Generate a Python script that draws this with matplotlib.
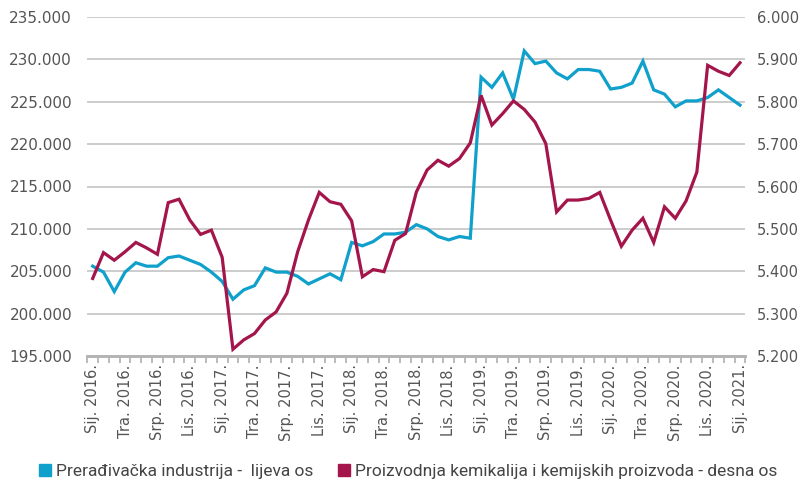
import matplotlib
matplotlib.use('Agg')
from matplotlib import pyplot as plt
from matplotlib.patches import Patch

# Months Sij. 2016. - Sij. 2021.
month_names = ['Sij.', 'Vel.', 'Ožu.', 'Tra.', 'Svi.', 'Lip.',
               'Srp.', 'Kol.', 'Ruj.', 'Lis.', 'Stu.', 'Pro.']
years = [2016, 2017, 2018, 2019, 2020, 2021]
labels = []
for y in years:
    for m in month_names:
        labels.append(m + ' ' + str(y) + '.')
labels = labels[:61]

# Prerađivačka industrija (lijeva os)
manufacturing = [205.6, 204.9, 202.6, 204.9, 206.0, 205.6, 205.6, 206.6, 206.8, 206.3,
                 205.8, 204.9, 203.8, 201.7, 202.8, 203.3, 205.4, 204.9, 204.9, 204.4,
                 203.5, 204.1, 204.7, 204.0, 208.4, 208.0, 208.5, 209.4, 209.4, 209.6,
                 210.5, 210.0, 209.1, 208.7, 209.1, 208.9, 227.9, 226.7, 228.4, 225.3,
                 231.0, 229.5, 229.8, 228.4, 227.7, 228.8, 228.8, 228.6, 226.5, 226.7,
                 227.2, 229.8, 226.4, 225.9, 224.4, 225.1, 225.1, 225.5, 226.4, 225.5,
                 224.6]

# Proizvodnja kemikalija i kemijskih proizvoda (desna os)
chemicals = [5.383, 5.444, 5.426, 5.446, 5.468, 5.455, 5.440, 5.562, 5.570, 5.521,
             5.487, 5.497, 5.433, 5.216, 5.238, 5.253, 5.285, 5.304, 5.348, 5.446,
             5.521, 5.586, 5.564, 5.558, 5.519, 5.387, 5.404, 5.399, 5.473, 5.489,
             5.587, 5.639, 5.662, 5.648, 5.666, 5.703, 5.815, 5.745, 5.772, 5.802,
             5.782, 5.752, 5.701, 5.540, 5.568, 5.568, 5.572, 5.586, 5.521, 5.459,
             5.497, 5.525, 5.468, 5.552, 5.525, 5.566, 5.634, 5.886, 5.872, 5.862,
             5.892]

left_ticks = [195, 200, 205, 210, 215, 220, 225, 230, 235]
right_ticks = [5.2, 5.3, 5.4, 5.5, 5.6, 5.7, 5.8, 5.9, 6.0]

blue = '#0fa0cc'
red = '#a3154b'
grey_text = '#555555'

fig = plt.figure(figsize=(8.03, 4.88), dpi=100)
ax = fig.add_axes([87.3 / 803, 1 - 356 / 488, 658.1 / 803, 339 / 488])
ax2 = ax.twinx()

x = list(range(len(labels)))
ax.plot(x, manufacturing, color=blue, lw=2.3, solid_joinstyle='miter')
ax2.plot(x, chemicals, color=red, lw=2.3, solid_joinstyle='miter')

ax.set_xlim(-0.5, 60.5)
ax.set_ylim(195, 235)
ax2.set_ylim(5.2, 6.0)

ax.set_yticks(left_ticks)
ax.set_yticklabels([f'{v}.000' for v in left_ticks])
ax2.set_yticks(right_ticks)
ax2.set_yticklabels([f'{v:.3f}' for v in right_ticks])
ax.grid(axis='y', color='#c4c4c4', lw=1.2)
ax.set_axisbelow(True)

ax.set_xticks(x[::3])
ax.set_xticklabels(labels[::3], rotation=90)
ax.set_xticks([i - 0.5 for i in range(62)], minor=True)
ax.tick_params(axis='x', which='major', length=0, pad=6, labelsize=10.5, labelcolor=grey_text)
ax.tick_params(axis='x', which='minor', length=5, width=1.3, color='#b5b5b5')
ax.tick_params(axis='y', length=0, pad=11, labelsize=11, labelcolor=grey_text)
ax2.tick_params(axis='y', length=0, pad=8, labelsize=10.5, labelcolor=grey_text)

for a in (ax, ax2):
    for s in ['top', 'left', 'right']:
        a.spines[s].set_visible(False)
    a.spines['bottom'].set_color('#b5b5b5')
    a.spines['bottom'].set_linewidth(2)

handles = [Patch(color=blue), Patch(color=red)]
names = ['Prerađivačka industrija -  lijeva os',
         'Proizvodnja kemikalija i kemijskih proizvoda - desna os']
fig.legend(handles, names, loc='lower left', bbox_to_anchor=(30 / 803, 0.0), ncol=2,
           frameon=False, handlelength=0.7, handleheight=0.7, handletextpad=0.3,
           columnspacing=1.4, borderaxespad=0.1, prop={'family': 'Roboto', 'size': 12.5},
           labelcolor='#444444')

plt.savefig('out.png', dpi=100)
